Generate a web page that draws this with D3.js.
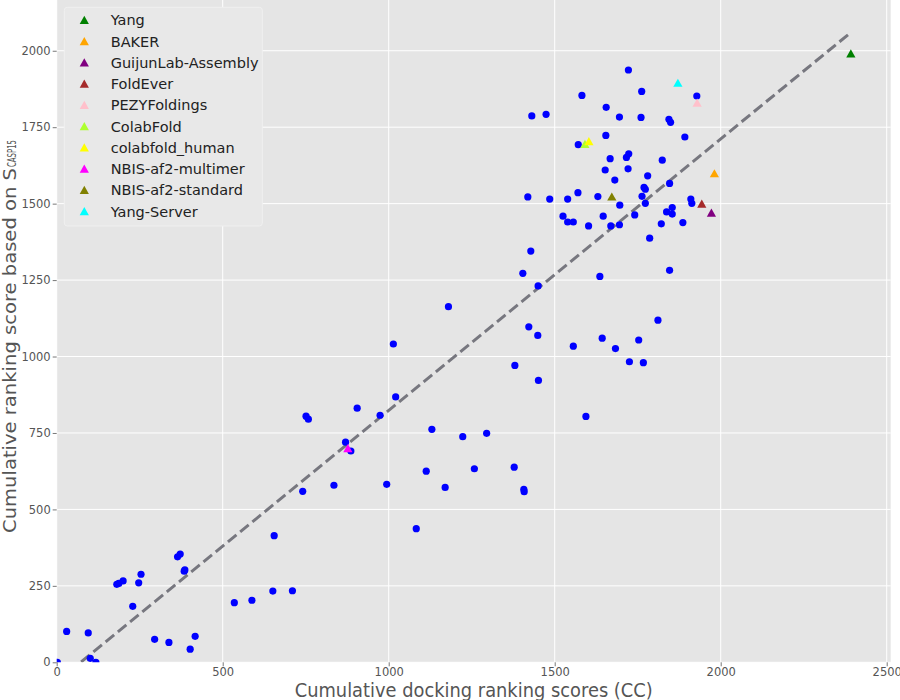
<!DOCTYPE html>
<html><head><meta charset="utf-8">
<script src="https://cdn.jsdelivr.net/npm/d3@7"></script>
<style>body{margin:0;background:#fff} svg{display:block}</style>
</head><body>
<svg id="c" width="900" height="700"></svg>
<script>
// ---- data ----
const xTicks = [0, 500, 1000, 1500, 2000, 2500];
const yTicks = [0, 250, 500, 750, 1000, 1250, 1500, 1750, 2000];

const blueX = [1722,1582,1762,1655,1695,1760,1844,1849,1928,1654,
  1892,1571,1667,1716,1723,1824,1652,1721,1780,1681,
  1846,1769,1773,1485,1539,1570,1630,1763,1696,1773,
  1910,1913,1854,1837,1854,1525,1539,1556,1646,1741,
  1602,1669,1695,1821,1886,1786,1431,1474,1419,1428,
  1404,1450,1180,1422,1449,1014,1380,1451,1846,1636,
  1811,1556,1643,1683,1753,1725,1767,1594,1021,974,
  1130,1223,1295,1113,1258,1378,994,1170,1407,1408,
  1083,751,758,905,870,886,741,835,655,30,
  95,101,118,2,181,187,200,254,247,229,
  364,372,384,386,295,338,402,417,535,588,
  651,710];
const blueY = [1937,1854,1867,1815,1783,1782,1776,1766,1852,1723,
  1718,1693,1647,1651,1663,1642,1610,1614,1591,1577,
  1566,1553,1547,1515,1515,1536,1523,1524,1495,1501,
  1515,1501,1487,1473,1466,1459,1440,1440,1459,1463,
  1427,1427,1431,1434,1438,1387,1787,1792,1522,1345,
  1272,1231,1163,1097,1069,1041,971,922,1282,1262,
  1119,1034,1060,1026,1054,983,980,804,868,808,
  762,738,749,625,633,638,582,572,566,558,
  437,805,795,831,720,691,559,579,414,101,
  96,13,0,0,255,258,266,288,260,183,
  345,354,298,302,75,65,43,85,195,203,
  233,234];

const teamNames  = ["Yang","BAKER","GuijunLab-Assembly","FoldEver","PEZYFoldings","ColabFold","colabfold_human","NBIS-af2-multimer","NBIS-af2-standard","Yang-Server"];
const teamX      = [2392, 1981, 1972, 1943, 1929, 1591, 1603, 877, 1672, 1871];
const teamY      = [1991, 1599, 1470, 1500, 1830, 1695, 1704, 700, 1523, 1895];
const teamColors = ["#008000","#FFA500","#800080","#A52A2A","#FFC0CB","#ADFF2F","#FFFF00","#FF00FF","#808000","#00FFFF"];

// trend line
const fitSlope = 0.888, fitIntercept = -64.2;
const fitX = [0, 2386];

const xLabel = "Cumulative docking ranking scores (CC)";
const yLabel = "Cumulative ranking score based on S";
const ySub = "CASP15";

// ---- layout ----
const L = 56.7, R = 890.7, T = 0, B = 662.3;
const svg = d3.select("#c");
const x = d3.scaleLinear().domain([0, 2512]).range([L, R]);
const y = d3.scaleLinear().domain([0, 2166]).range([B, T]);

svg.append("rect").attr("width",900).attr("height",700).attr("fill","#fff");
svg.append("rect").attr("x",L).attr("y",T).attr("width",R-L).attr("height",B-T).attr("fill","#E5E5E5");

svg.append("defs").append("clipPath").attr("id","clip")
  .append("rect").attr("x",L).attr("y",T).attr("width",R-L).attr("height",B-T);

// grid
const g = svg.append("g");
g.selectAll(".gx").data(xTicks).join("line")
  .attr("x1",d=>x(d)).attr("x2",d=>x(d)).attr("y1",T).attr("y2",B)
  .attr("stroke","#fff").attr("stroke-width",1);
g.selectAll(".gy").data(yTicks).join("line")
  .attr("x1",L).attr("x2",R).attr("y1",d=>y(d)).attr("y2",d=>y(d))
  .attr("stroke","#fff").attr("stroke-width",1);

const plot = svg.append("g").attr("clip-path","url(#clip)");

// trend line
plot.append("path")
  .datum(fitX.map(v=>[v, fitSlope*v+fitIntercept]))
  .attr("d", d3.line().x(d=>x(d[0])).y(d=>y(d[1])))
  .attr("fill","none").attr("stroke","#77777f").attr("stroke-width",3)
  .attr("stroke-dasharray","11,4.8");

// blue dots
plot.selectAll(".dot").data(blueX.map((v,i)=>[v, blueY[i]])).join("circle")
  .attr("cx",d=>x(d[0])).attr("cy",d=>y(d[1])).attr("r",3.6).attr("fill","#0000FF");

// team triangles
const tri = "M0,-4.2L4.6,4L-4.6,4Z";
plot.selectAll(".tri").data(teamNames.map((n,i)=>({n, x:teamX[i], y:teamY[i], c:teamColors[i]}))).join("path")
  .attr("d",tri).attr("transform",d=>`translate(${x(d.x)},${y(d.y)})`).attr("fill",d=>d.c);

// axes
const ax = svg.append("g").attr("transform",`translate(0,${B})`)
  .call(d3.axisBottom(x).tickValues(xTicks).tickSize(4).tickPadding(2).tickFormat(d3.format("d")));
const ay = svg.append("g").attr("transform",`translate(${L},0)`)
  .call(d3.axisLeft(y).tickValues(yTicks).tickSize(4).tickPadding(2).tickFormat(d3.format("d")));
[ax, ay].forEach(a=>{
  a.select(".domain").remove();
  a.selectAll(".tick line").attr("stroke","#555").attr("stroke-width",0.8);
  a.selectAll(".tick text").attr("fill","#555").style("font-family","DejaVu Sans").style("font-size","11.5px");
});

// axis labels
svg.append("text").attr("x",(L+R)/2).attr("y",697).attr("text-anchor","middle")
  .attr("textLength",358).attr("lengthAdjust","spacingAndGlyphs")
  .style("font-family","DejaVu Sans").style("font-size","19px").attr("fill","#555").text(xLabel);
const yl = svg.append("g").attr("transform","rotate(-90)");
yl.append("text").attr("x",-533).attr("y",16)
  .attr("textLength",365).attr("lengthAdjust","spacingAndGlyphs")
  .style("font-family","DejaVu Sans").style("font-size","18px").attr("fill","#555").text(yLabel);
yl.append("text").attr("x",-167).attr("y",15.5)
  .attr("textLength",27).attr("lengthAdjust","spacingAndGlyphs")
  .style("font-family","DejaVu Sans").style("font-size","11.5px").attr("fill","#555").text(ySub);

// legend
const lg = svg.append("g");
lg.append("rect").attr("x",64.3).attr("y",7.3).attr("width",198).attr("height",218.7).attr("rx",3)
  .attr("fill","#E8E8E8").attr("stroke","#F0F0F0").attr("stroke-width",1);
const items = lg.selectAll(".li").data(teamNames.map((n,i)=>({n,c:teamColors[i],i}))).join("g")
  .attr("transform",d=>`translate(0,${20+d.i*21.25})`);
items.append("path").attr("d",tri).attr("transform","translate(84.3,0)").attr("fill",d=>d.c);
items.append("text").attr("x",110.7).attr("y",5.3)
  .style("font-family","DejaVu Sans").style("font-size","14.5px").attr("fill","#222").text(d=>d.n);
</script>
</body></html>
